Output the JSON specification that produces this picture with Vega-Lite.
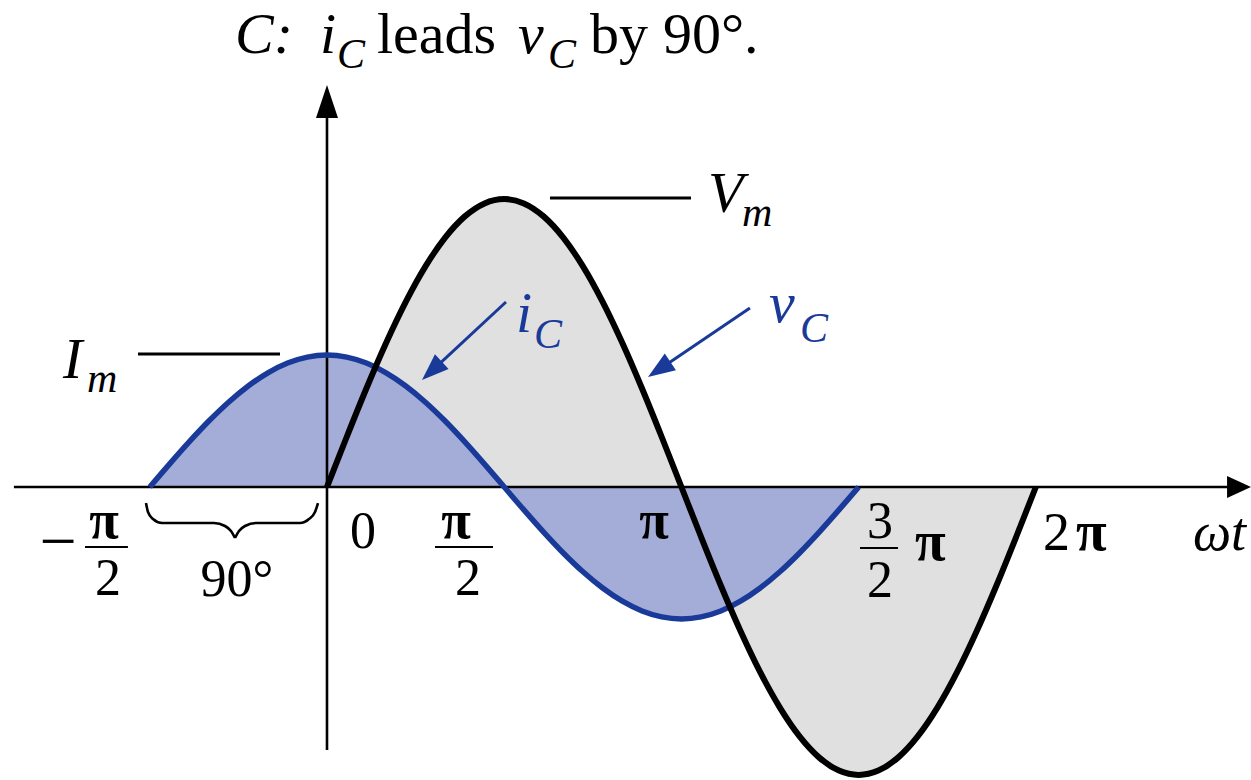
{
  "$schema": "https://vega.github.io/schema/vega-lite/v6.json",
  "width": 1251,
  "height": 780,
  "autosize": {"type": "none"},
  "padding": 0,
  "background": "white",
  "config": {"view": {"stroke": null}},
  "datasets": {
    "v": [
      {"x": 0, "y": 0}, {"x": 10, "y": 0.1736}, {"x": 20, "y": 0.342}, {"x": 30, "y": 0.5}, {"x": 40, "y": 0.6428}, {"x": 50, "y": 0.766}, {"x": 60, "y": 0.866}, {"x": 70, "y": 0.9397}, {"x": 80, "y": 0.9848}, {"x": 90, "y": 1},
      {"x": 100, "y": 0.9848}, {"x": 110, "y": 0.9397}, {"x": 120, "y": 0.866}, {"x": 130, "y": 0.766}, {"x": 140, "y": 0.6428}, {"x": 150, "y": 0.5}, {"x": 160, "y": 0.342}, {"x": 170, "y": 0.1736}, {"x": 180, "y": 0},
      {"x": 190, "y": -0.1736}, {"x": 200, "y": -0.342}, {"x": 210, "y": -0.5}, {"x": 220, "y": -0.6428}, {"x": 230, "y": -0.766}, {"x": 240, "y": -0.866}, {"x": 250, "y": -0.9397}, {"x": 260, "y": -0.9848}, {"x": 270, "y": -1},
      {"x": 280, "y": -0.9848}, {"x": 290, "y": -0.9397}, {"x": 300, "y": -0.866}, {"x": 310, "y": -0.766}, {"x": 320, "y": -0.6428}, {"x": 330, "y": -0.5}, {"x": 340, "y": -0.342}, {"x": 350, "y": -0.1736}, {"x": 360, "y": 0}
    ],
    "i": [
      {"x": -90, "y": 0}, {"x": -80, "y": 0.0795}, {"x": -70, "y": 0.1566}, {"x": -60, "y": 0.229}, {"x": -50, "y": 0.2944}, {"x": -40, "y": 0.3508}, {"x": -30, "y": 0.3966}, {"x": -20, "y": 0.4304}, {"x": -10, "y": 0.451}, {"x": 0, "y": 0.458},
      {"x": 10, "y": 0.451}, {"x": 20, "y": 0.4304}, {"x": 30, "y": 0.3966}, {"x": 40, "y": 0.3508}, {"x": 50, "y": 0.2944}, {"x": 60, "y": 0.229}, {"x": 70, "y": 0.1566}, {"x": 80, "y": 0.0795}, {"x": 90, "y": 0},
      {"x": 100, "y": -0.0795}, {"x": 110, "y": -0.1566}, {"x": 120, "y": -0.229}, {"x": 130, "y": -0.2944}, {"x": 140, "y": -0.3508}, {"x": 150, "y": -0.3966}, {"x": 160, "y": -0.4304}, {"x": 170, "y": -0.451}, {"x": 180, "y": -0.458},
      {"x": 190, "y": -0.451}, {"x": 200, "y": -0.4304}, {"x": 210, "y": -0.3966}, {"x": 220, "y": -0.3508}, {"x": 230, "y": -0.2944}, {"x": 240, "y": -0.229}, {"x": 250, "y": -0.1566}, {"x": 260, "y": -0.0795}, {"x": 270, "y": 0}
    ],
    "axisRules": [
      {"x": -159, "y": 0, "x2": 457.6, "y2": 0},
      {"x": 0, "y": 1.281, "x2": 0, "y2": -0.913}
    ],
    "refRules": [
      {"x": 113.25, "y": 1.0035, "x2": 184.86, "y2": 1.0035},
      {"x": -95.99, "y": 0.4618, "x2": -23.87, "y2": 0.4618}
    ],
    "fracBars": [
      {"x": -122.9, "y": -0.2083, "x2": -101.1, "y2": -0.2083},
      {"x": 54.85, "y": -0.2083, "x2": 84.31, "y2": -0.2083},
      {"x": 270.7, "y": -0.2118, "x2": 290.0, "y2": -0.2118}
    ],
    "arrowLines": [
      {"x": 90.9, "y": 0.6424, "x2": 53.27, "y2": 0.4035},
      {"x": 214.8, "y": 0.6215, "x2": 168.7, "y2": 0.4083}
    ],
    "brace": [
      {"part": "L", "x": -91.93, "y": -0.0556}, {"part": "L", "x": -90.91, "y": -0.0868}, {"part": "L", "x": -88.37, "y": -0.1111}, {"part": "L", "x": -83.8, "y": -0.125}, {"part": "L", "x": -57.39, "y": -0.125}, {"part": "L", "x": -51.8, "y": -0.1354}, {"part": "L", "x": -48.76, "y": -0.1528}, {"part": "L", "x": -46.72, "y": -0.1771},
      {"part": "R", "x": -46.72, "y": -0.1771}, {"part": "R", "x": -44.69, "y": -0.1528}, {"part": "R", "x": -41.65, "y": -0.1354}, {"part": "R", "x": -36.06, "y": -0.125}, {"part": "R", "x": -13.71, "y": -0.125}, {"part": "R", "x": -9.14, "y": -0.1111}, {"part": "R", "x": -6.09, "y": -0.0868}, {"part": "R", "x": -4.57, "y": -0.0556}
    ],
    "hArrow": [{"x": 463.2, "y": 0}],
    "vArrow": [{"x": 0, "y": 1.3385}],
    "iHead": [{"x": 53.27, "y": 0.4035}],
    "vHead": [{"x": 168.7, "y": 0.4083}],
    "titleRoman": [
      {"x": 25.4, "y": 1.5069, "t": "leads"},
      {"x": 133.6, "y": 1.5069, "t": "by"},
      {"x": 170.6, "y": 1.5069, "t": "90°."}
    ],
    "italicBig": [
      {"x": -46.72, "y": 1.5069, "t": "C:"},
      {"x": -3.56, "y": 1.5069, "t": "i"},
      {"x": 97.0, "y": 1.5069, "t": "v"},
      {"x": 193.5, "y": 0.9549, "t": "V"},
      {"x": -134.1, "y": 0.3785, "t": "I"}
    ],
    "italicSub": [
      {"x": 5.08, "y": 1.4549, "t": "C"},
      {"x": 112.2, "y": 1.4549, "t": "C"},
      {"x": 210.8, "y": 0.9063, "t": "m"},
      {"x": -121.9, "y": 0.3299, "t": "m"}
    ],
    "blueBig": [
      {"x": 96.0, "y": 0.538, "t": "i"},
      {"x": 224.5, "y": 0.5729, "t": "v"}
    ],
    "blueSub": [
      {"x": 105.1, "y": 0.4826, "t": "C"},
      {"x": 240.2, "y": 0.5035, "t": "C"}
    ],
    "minus": [
      {"x": -136.6, "y": -0.2639, "t": "−"}
    ],
    "tickCenter": [
      {"x": -111.2, "y": -0.375, "t": "2"},
      {"x": -45.7, "y": -0.3785, "t": "90°"},
      {"x": 18.28, "y": -0.2118, "t": "0"},
      {"x": 71.6, "y": -0.375, "t": "2"},
      {"x": 280.85, "y": -0.177, "t": "3"},
      {"x": 280.85, "y": -0.382, "t": "2"}
    ],
    "piCenter": [
      {"x": -113.25, "y": -0.177, "t": "π"},
      {"x": 65.5, "y": -0.177, "t": "π"},
      {"x": 166.1, "y": -0.1771, "t": "π"}
    ],
    "tickLeft": [
      {"x": 363.6, "y": -0.2188, "t": "2"}
    ],
    "piLeft": [
      {"x": 298.6, "y": -0.2535, "t": "π"},
      {"x": 380.4, "y": -0.2188, "t": "π"}
    ],
    "tickItalic": [
      {"x": 439.8, "y": -0.2188, "t": "ωt"}
    ]
  },
  "encoding": {
    "x": {"field": "x", "type": "quantitative", "scale": {"domain": [-166.07, 469.27], "nice": false, "zero": false}, "axis": null},
    "y": {"field": "y", "type": "quantitative", "scale": {"domain": [-1.0174, 1.691], "nice": false, "zero": false}, "axis": null}
  },
  "layer": [
    {"data": {"name": "v"}, "mark": {"type": "area", "interpolate": "monotone", "color": "#e0e0e0"}, "encoding": {"y2": {"datum": 0}}},
    {"data": {"name": "i"}, "mark": {"type": "area", "interpolate": "monotone", "color": "#a4acd8"}, "encoding": {"y2": {"datum": 0}}},
    {"data": {"name": "axisRules"}, "mark": {"type": "rule", "color": "black", "strokeWidth": 2.6}, "encoding": {"x2": {"field": "x2"}, "y2": {"field": "y2"}}},
    {"data": {"name": "hArrow"}, "mark": {"type": "point", "filled": true, "opacity": 1, "color": "black", "shape": "M1,0L-1,-0.917L-1,0.917Z", "size": 576}, "encoding": {}},
    {"data": {"name": "vArrow"}, "mark": {"type": "point", "filled": true, "opacity": 1, "color": "black", "shape": "M0,-1L0.667,1L-0.667,1Z", "size": 1089}, "encoding": {}},
    {"data": {"name": "i"}, "mark": {"type": "line", "interpolate": "monotone", "color": "#1a3a99", "strokeWidth": 5.5}, "encoding": {}},
    {"data": {"name": "v"}, "mark": {"type": "line", "interpolate": "monotone", "color": "black", "strokeWidth": 6}, "encoding": {}},
    {"data": {"name": "refRules"}, "mark": {"type": "rule", "color": "black", "strokeWidth": 3}, "encoding": {"x2": {"field": "x2"}, "y2": {"field": "y2"}}},
    {"data": {"name": "fracBars"}, "mark": {"type": "rule", "color": "black", "strokeWidth": 2}, "encoding": {"x2": {"field": "x2"}, "y2": {"field": "y2"}}},
    {"data": {"name": "arrowLines"}, "mark": {"type": "rule", "color": "#1a3a99", "strokeWidth": 3}, "encoding": {"x2": {"field": "x2"}, "y2": {"field": "y2"}}},
    {"data": {"name": "iHead"}, "mark": {"type": "point", "filled": true, "opacity": 1, "color": "#1a3a99", "shape": "M1,0L-1,-0.74L-1,0.74Z", "size": 729, "angle": 137}, "encoding": {}},
    {"data": {"name": "vHead"}, "mark": {"type": "point", "filled": true, "opacity": 1, "color": "#1a3a99", "shape": "M1,0L-1,-0.74L-1,0.74Z", "size": 729, "angle": 146}, "encoding": {}},
    {"data": {"name": "brace"}, "mark": {"type": "line", "interpolate": "monotone", "color": "black", "strokeWidth": 2.6}, "encoding": {"detail": {"field": "part"}}},
    {"data": {"name": "titleRoman"}, "mark": {"type": "text", "font": "Liberation Serif", "fontSize": 58, "align": "left", "baseline": "alphabetic", "color": "black"}, "encoding": {"text": {"field": "t"}}},
    {"data": {"name": "italicBig"}, "mark": {"type": "text", "font": "Liberation Serif", "fontStyle": "italic", "fontSize": 58, "align": "left", "baseline": "alphabetic", "color": "black"}, "encoding": {"text": {"field": "t"}}},
    {"data": {"name": "italicSub"}, "mark": {"type": "text", "font": "Liberation Serif", "fontStyle": "italic", "fontSize": 42, "align": "left", "baseline": "alphabetic", "color": "black"}, "encoding": {"text": {"field": "t"}}},
    {"data": {"name": "blueBig"}, "mark": {"type": "text", "font": "Liberation Serif", "fontStyle": "italic", "fontSize": 58, "align": "left", "baseline": "alphabetic", "color": "#1a3a99"}, "encoding": {"text": {"field": "t"}}},
    {"data": {"name": "blueSub"}, "mark": {"type": "text", "font": "Liberation Serif", "fontStyle": "italic", "fontSize": 42, "align": "left", "baseline": "alphabetic", "color": "#1a3a99"}, "encoding": {"text": {"field": "t"}}},
    {"data": {"name": "minus"}, "mark": {"type": "text", "font": "Liberation Serif", "fontSize": 66, "align": "center", "baseline": "alphabetic", "color": "black"}, "encoding": {"text": {"field": "t"}}},
    {"data": {"name": "tickCenter"}, "mark": {"type": "text", "font": "Liberation Serif", "fontSize": 52, "align": "center", "baseline": "alphabetic", "color": "black"}, "encoding": {"text": {"field": "t"}}},
    {"data": {"name": "piCenter"}, "mark": {"type": "text", "font": "Liberation Serif", "fontSize": 54, "fontWeight": "bold", "align": "center", "baseline": "alphabetic", "color": "black"}, "encoding": {"text": {"field": "t"}}},
    {"data": {"name": "tickLeft"}, "mark": {"type": "text", "font": "Liberation Serif", "fontSize": 54, "align": "left", "baseline": "alphabetic", "color": "black"}, "encoding": {"text": {"field": "t"}}},
    {"data": {"name": "piLeft"}, "mark": {"type": "text", "font": "Liberation Serif", "fontSize": 56, "fontWeight": "bold", "align": "left", "baseline": "alphabetic", "color": "black"}, "encoding": {"text": {"field": "t"}}},
    {"data": {"name": "tickItalic"}, "mark": {"type": "text", "font": "Liberation Serif", "fontStyle": "italic", "fontSize": 54, "align": "left", "baseline": "alphabetic", "color": "black"}, "encoding": {"text": {"field": "t"}}}
  ]
}
